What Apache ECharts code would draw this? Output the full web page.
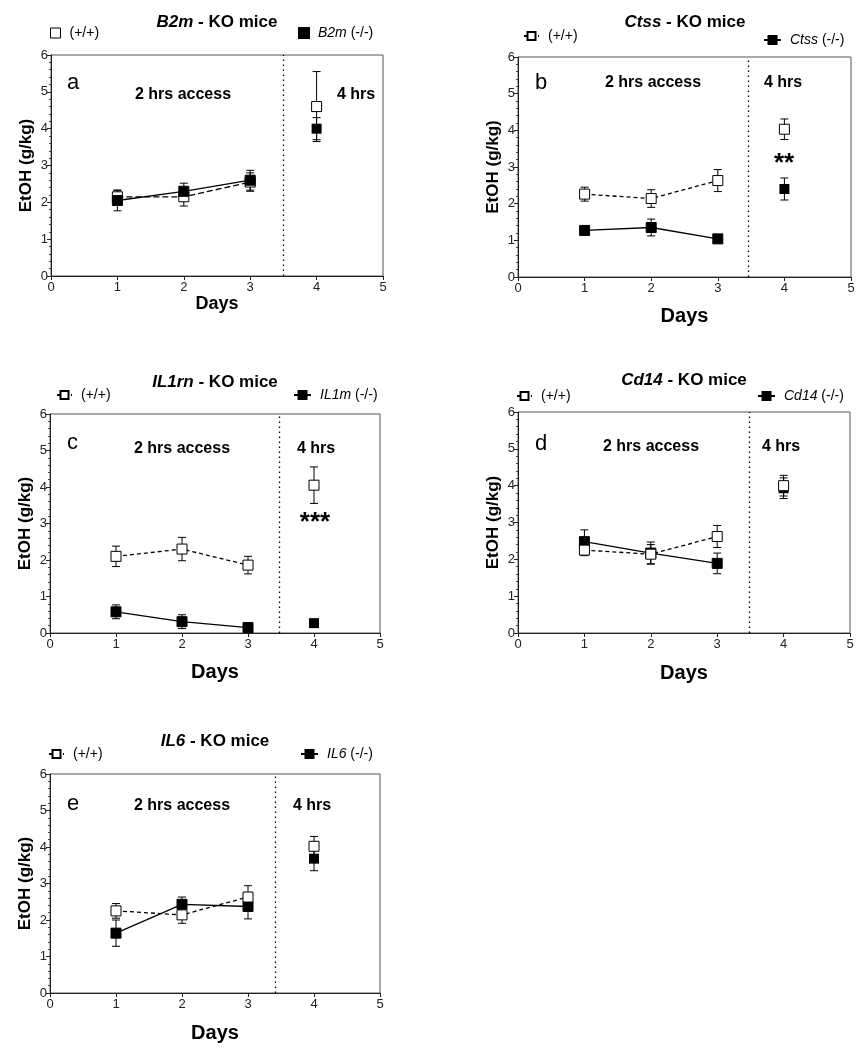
<!DOCTYPE html>
<html>
<head>
<meta charset="utf-8">
<script src="https://cdn.jsdelivr.net/npm/echarts@6/dist/echarts.min.js"></script>
<style>
html,body{margin:0;padding:0;background:#fff;}
#main{width:867px;height:1050px;}
</style>
</head>
<body>
<div id="main"></div>
<script>
// days on x axis
var days = [1, 2, 3, 4];

// panel a - B2m
var b2mWt = [2.15, 2.15, 2.55, 4.6];
var b2mWtSem = [0.18, 0.25, 0.25, 0.95];
var b2mKo = [2.05, 2.3, 2.6, 4.0];
var b2mKoSem = [0.28, 0.22, 0.27, 0.3];

// panel b - Ctss
var ctssWt = [2.26, 2.14, 2.63, 4.03];
var ctssWtSem = [0.19, 0.24, 0.3, 0.28];
var ctssKo = [1.27, 1.35, 1.04, 2.4];
var ctssKoSem = [0.08, 0.23, 0.06, 0.3];

// panel c - IL1rn
var il1rnWt = [2.1, 2.3, 1.86, 4.05];
var il1rnWtSem = [0.28, 0.32, 0.24, 0.5];
var il1rnKo = [0.58, 0.31, 0.15, 0.27];
var il1rnKoSem = [0.19, 0.19, 0.05, 0.03];

// panel d - Cd14
var cd14Wt = [2.25, 2.14, 2.62, 4.0];
var cd14WtSem = [0.15, 0.26, 0.3, 0.28];
var cd14Ko = [2.48, 2.17, 1.89, 3.93];
var cd14KoSem = [0.32, 0.3, 0.28, 0.28];

// panel e - IL6
var il6Wt = [2.25, 2.14, 2.63, 4.02];
var il6WtSem = [0.2, 0.23, 0.31, 0.27];
var il6Ko = [1.64, 2.43, 2.37, 3.68];
var il6KoSem = [0.36, 0.2, 0.34, 0.33];

// x of the dotted separator (2 hrs / 4 hrs)
var splitDay = [3.5, 3.45, 3.47, 3.48, 3.42];

var fontFam = '"Liberation Sans", Arial, Helvetica, sans-serif';

var panels = [
	{id:'a', gene:'B2m', koName:'B2m', wt:b2mWt, wtSem:b2mWtSem, ko:b2mKo, koSem:b2mKoSem,
	 grid:{left:51, top:55, width:332, height:221}, daysGap:18, daysSize:18, wtDash:[6,3], legendLine:false,
	 titleX:217, titleY:22, lgWt:[50,26,71], lgKo:[298,26,318], letter:[67,83], access:[183,95], four:[356,95], ko_top:true, stars:null},
	{id:'b', gene:'Ctss', koName:'Ctss', wt:ctssWt, wtSem:ctssWtSem, ko:ctssKo, koSem:ctssKoSem,
	 grid:{left:518, top:57, width:333, height:220}, daysGap:29, daysSize:20, wtDash:[4,3], legendLine:true,
	 titleX:685, titleY:22, lgWt:[523,29,547], lgKo:[763,33,788], letter:[535,83], access:[653,83], four:[783,83], stars:['**',784,164]},
	{id:'c', gene:'IL1rn', koName:'IL1m', wt:il1rnWt, wtSem:il1rnWtSem, ko:il1rnKo, koSem:il1rnKoSem,
	 grid:{left:50, top:414, width:330, height:219}, daysGap:29, daysSize:20, wtDash:[4,3], legendLine:true,
	 titleX:215, titleY:382, lgWt:[56,388,80], lgKo:[293,388,315], letter:[67,443], access:[182,449], four:[316,449], stars:['***',315,523]},
	{id:'d', gene:'Cd14', koName:'Cd14', wt:cd14Wt, wtSem:cd14WtSem, ko:cd14Ko, koSem:cd14KoSem,
	 grid:{left:518, top:412, width:332, height:221}, daysGap:30, daysSize:20, wtDash:[4,3], legendLine:true,
	 titleX:684, titleY:380, lgWt:[516,389,538], lgKo:[757,389,782], letter:[535,444], access:[651,447], four:[781,447], stars:null},
	{id:'e', gene:'IL6', koName:'IL6', wt:il6Wt, wtSem:il6WtSem, ko:il6Ko, koSem:il6KoSem,
	 grid:{left:50, top:774, width:330, height:219}, daysGap:30, daysSize:20, wtDash:[4,3], legendLine:true,
	 titleX:215, titleY:741, lgWt:[48,747,71], lgKo:[300,747,323], letter:[67,804], access:[182,806], four:[312,806], stars:null}
];

function errRender(params, api){
	var x = api.value(0);
	var lo = api.coord([x, api.value(1)]);
	var hi = api.coord([x, api.value(2)]);
	var w = 4;
	var st = {stroke:'#000', lineWidth:1};
	return {type:'group', children:[
		{type:'line', shape:{x1:lo[0], y1:lo[1], x2:hi[0], y2:hi[1]}, style:st},
		{type:'line', shape:{x1:lo[0]-w, y1:lo[1], x2:lo[0]+w, y2:lo[1]}, style:st},
		{type:'line', shape:{x1:hi[0]-w, y1:hi[1], x2:hi[0]+w, y2:hi[1]}, style:st}
	]};
}

function pts(vals, from, to){
	var out = [];
	for(var i=from;i<to;i++){
		out.push([days[i], vals[i]]);
	}
	return out;
}

function errs(vals, sem){
	var out = [];
	for(var i=0;i<days.length;i++){
		out.push([days[i], vals[i]-sem[i], vals[i]+sem[i]]);
	}
	return out;
}

function legendFmt(n){
	var s = n.split('#')[0];
	if(s.indexOf(' ')>0){
		var p = s.split(' ');
		return '{i|'+p[0]+'} '+p[1];
	}
	return s;
}

var option = {
	animation:false,
	backgroundColor:'#fff',
	grid:[], xAxis:[], yAxis:[], series:[], legend:[], graphic:[]
};

for(var k=0;k<panels.length;k++){
	var p = panels[k];
	var wtName = '(+/+)#'+p.id;
	var koName = p.koName+' (-/-)#'+p.id;
	option.grid.push({left:p.grid.left, top:p.grid.top, width:p.grid.width, height:p.grid.height,
		show:true, borderColor:'#555', borderWidth:1, backgroundColor:'transparent'});
	option.xAxis.push({
		type:'value', gridIndex:k, min:0, max:5, interval:1,
		name:'Days', nameLocation:'middle', nameGap:p.daysGap,
		nameTextStyle:{fontFamily:fontFam, fontSize:p.daysSize, fontWeight:'bold', color:'#000'},
		axisLine:{show:true, onZero:false, lineStyle:{color:'#222', width:1}},
		axisTick:{show:true, length:4, lineStyle:{color:'#222'}},
		axisLabel:{fontFamily:fontFam, fontSize:13, color:'#222', margin:5},
		splitLine:{show:false}
	});
	option.yAxis.push({
		type:'value', gridIndex:k, min:0, max:6, interval:1,
		name:'EtOH (g/kg)', nameLocation:'middle', nameGap:16,
		nameTextStyle:{fontFamily:fontFam, fontSize:17, fontWeight:'bold', color:'#000'},
		axisLine:{show:true, lineStyle:{color:'#222', width:1}},
		axisTick:{show:true, length:4, lineStyle:{color:'#222'}},
		minorTick:{show:true, splitNumber:5, length:2, lineStyle:{color:'#444'}},
		axisLabel:{fontFamily:fontFam, fontSize:13, color:'#222', margin:3},
		splitLine:{show:false}
	});
	var wtZ = p.ko_top ? 3 : 5;
	var koZ = p.ko_top ? 5 : 3;
	// error bars
	option.series.push({type:'custom', xAxisIndex:k, yAxisIndex:k, renderItem:errRender, z:2,
		encode:{x:0, y:[1,2]}, data:errs(p.wt, p.wtSem), silent:true});
	option.series.push({type:'custom', xAxisIndex:k, yAxisIndex:k, renderItem:errRender, z:2,
		encode:{x:0, y:[1,2]}, data:errs(p.ko, p.koSem), silent:true});
	// wild type
	option.series.push({
		name:wtName, type:'line', xAxisIndex:k, yAxisIndex:k, z:wtZ,
		data:pts(p.wt, 0, 3), symbol:'rect', symbolSize:10, showSymbol:true,
		lineStyle:{color:'#000', width:1.3, type:p.wtDash},
		itemStyle:{color:'#fff', borderColor:'#000', borderWidth:1},
		markLine:{silent:true, symbol:'none', label:{show:false},
			lineStyle:{type:[1.5,3.5], color:'#000', width:1.3}, data:[{xAxis:splitDay[k]}]}
	});
	option.series.push({
		name:wtName, type:'scatter', xAxisIndex:k, yAxisIndex:k, z:wtZ,
		data:pts(p.wt, 3, 4), symbol:'rect', symbolSize:10,
		itemStyle:{color:'#fff', borderColor:'#000', borderWidth:1, opacity:1}
	});
	// knockout
	option.series.push({
		name:koName, type:'line', xAxisIndex:k, yAxisIndex:k, z:koZ,
		data:pts(p.ko, 0, 3), symbol:'rect', symbolSize:10, showSymbol:true,
		lineStyle:{color:'#000', width:1.3},
		itemStyle:{color:'#000', borderColor:'#000', borderWidth:1}
	});
	option.series.push({
		name:koName, type:'scatter', xAxisIndex:k, yAxisIndex:k, z:koZ,
		data:pts(p.ko, 3, 4), symbol:'rect', symbolSize:10,
		itemStyle:{color:'#000', opacity:1}
	});
	// legends
	var lgText = {fontFamily:fontFam, fontSize:14, color:'#000', padding:[0,0,0,4],
		rich:{i:{fontStyle:'italic', fontFamily:fontFam, fontSize:14, color:'#000'}}};
	var wtItem = {name:wtName};
	var koItem = {name:koName};
	if(!p.legendLine){
		wtItem.icon = 'rect';
		wtItem.itemStyle = {color:'#fff', borderColor:'#000', borderWidth:1};
		koItem.icon = 'rect';
		koItem.itemStyle = {color:'#000'};
	}
	option.legend.push({left:p.lgWt[0], top:p.lgWt[1], itemWidth:p.legendLine?15:10, itemHeight:10,
		selectedMode:false, formatter:legendFmt, textStyle:lgText, data:[wtItem], padding:0});
	option.legend.push({left:p.lgKo[0], top:p.lgKo[1], itemWidth:p.legendLine?17:10, itemHeight:10,
		selectedMode:false, formatter:legendFmt, textStyle:lgText, data:[koItem], padding:0});
	// texts
	option.graphic.push({type:'text', x:p.titleX, y:p.titleY, style:{
		text:'{i|'+p.gene+'} - KO mice', textAlign:'center', textVerticalAlign:'middle',
		font:'bold 17px '+fontFam, fill:'#000',
		rich:{i:{fontStyle:'italic', fontWeight:'bold', fontSize:17, fontFamily:fontFam, fill:'#000'}}}});
	option.graphic.push({type:'text', x:p.letter[0], y:p.letter[1], style:{
		text:p.id, textAlign:'left', textVerticalAlign:'middle', font:'22px '+fontFam, fill:'#000'}});
	option.graphic.push({type:'text', x:p.access[0], y:p.access[1], style:{
		text:'2 hrs access', textAlign:'center', textVerticalAlign:'middle', font:'bold 16px '+fontFam, fill:'#000'}});
	option.graphic.push({type:'text', x:p.four[0], y:p.four[1], style:{
		text:'4 hrs', textAlign:'center', textVerticalAlign:'middle', font:'bold 16px '+fontFam, fill:'#000'}});
	if(p.stars){
		option.graphic.push({type:'text', x:p.stars[1], y:p.stars[2], style:{
			text:p.stars[0], textAlign:'center', textVerticalAlign:'middle', font:'bold 26px '+fontFam, fill:'#000'}});
	}
}

var myChart = echarts.init(document.getElementById('main'), null, {renderer:'canvas'});
myChart.setOption(option);
</script>
</body>
</html>
